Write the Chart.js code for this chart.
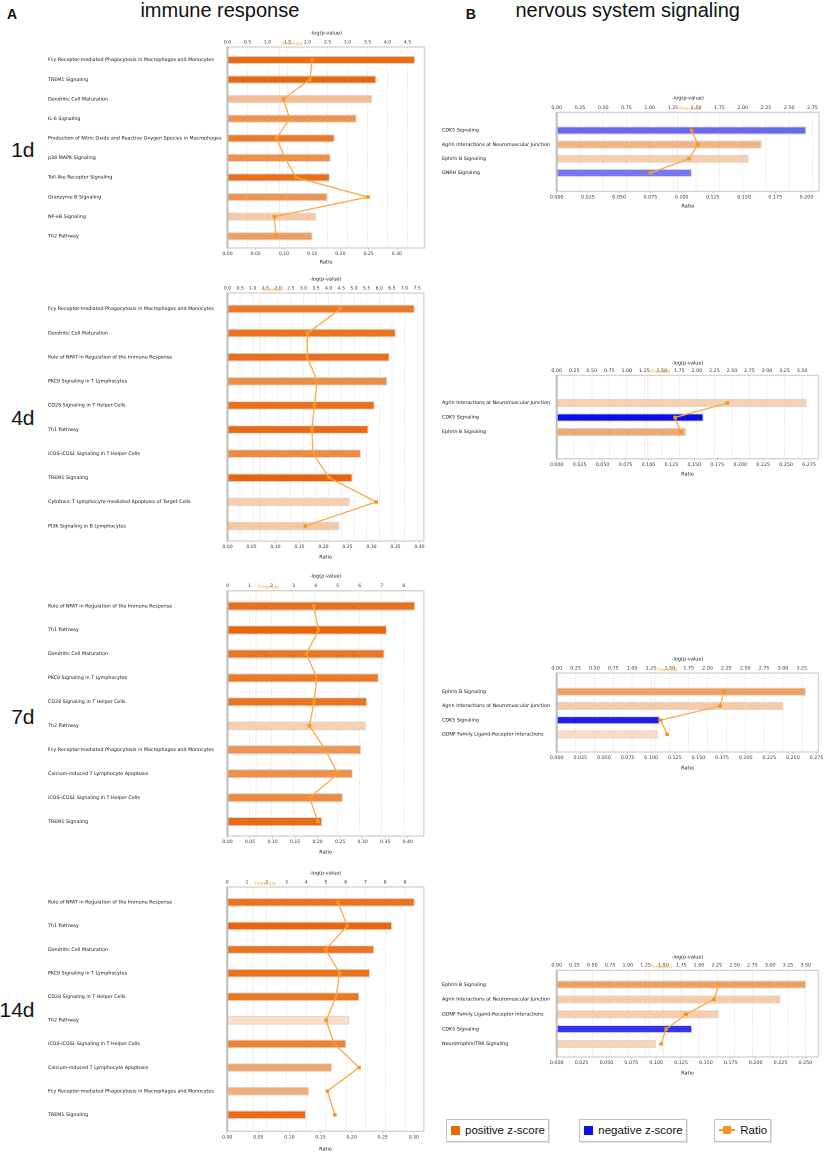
<!DOCTYPE html>
<html>
<head>
<meta charset="utf-8">
<script src="https://cdn.jsdelivr.net/npm/chart.js@4.4.1/dist/chart.umd.min.js"></script>
<style>
  body { margin: 0; background: #fff; width: 826px; height: 1155px; position: relative; overflow: hidden;
         font-family: "Liberation Sans", Arial, sans-serif; }
  .t { position: absolute; white-space: nowrap; color: #111; }
  canvas { position: absolute; }
  .lg { position: absolute; top: 1118.7px; height: 21px; border: 1px solid #c4c4c4; box-shadow: 1px 1px 0 #e2e2e2;
        font-size: 11.5px; color: #111; display: flex; align-items: center; }
  .sq { width: 9.3px; height: 9.3px; margin: 0 5px 0 4px; }
</style>
</head>
<body>
<div class="t" style="left:7px;top:6.5px;font-size:14px;font-weight:bold;line-height:14px">A</div>
<div class="t" style="left:140.4px;top:0;font-size:20px;line-height:20px">immune response</div>
<div class="t" style="left:465.7px;top:6.5px;font-size:14px;font-weight:bold;line-height:14px">B</div>
<div class="t" style="left:515.4px;top:0;font-size:20px;line-height:20px">nervous system signaling</div>
<div class="t" style="right:791.5px;top:138.9px;font-size:21px;line-height:21px">1d</div>
<div class="t" style="right:791.5px;top:407.2px;font-size:21px;line-height:21px">4d</div>
<div class="t" style="right:791.5px;top:706.2px;font-size:21px;line-height:21px">7d</div>
<div class="t" style="right:791.5px;top:998.9px;font-size:21px;line-height:21px">14d</div>

<div class="lg" style="left:445.7px;width:101px"><div class="sq" style="background:#E8650A"></div>positive z-score</div>
<div class="lg" style="left:579px;width:105.5px"><div class="sq" style="background:#1010E6"></div>negative z-score</div>
<div class="lg" style="left:714.3px;width:54.5px">
  <div style="position:relative;width:16px;height:9px;margin:0 5px 0 4px">
    <div style="position:absolute;left:0;top:3.5px;width:16px;height:2px;background:#F7941D"></div>
    <div style="position:absolute;left:4px;top:0.5px;width:8px;height:8px;background:#F7941D"></div>
  </div>Ratio</div>

<script>
const THRESHOLD = 1.3;

// A - immune response
const cats1dA = ['Fcγ Receptor-mediated Phagocytosis in Macrophages and Monocytes', 'TREM1 Signaling',
  'Dendritic Cell Maturation', 'IL-6 Signaling', 'Production of Nitric Oxide and Reactive Oxygen Species in Macrophages',
  'p38 MAPK Signaling', 'Toll-like Receptor Signaling', 'Granzyme B Signaling', 'NF-κB Signaling', 'Th2 Pathway'];
const logp1dA = [4.68, 3.71, 3.61, 3.22, 2.67, 2.57, 2.55, 2.49, 2.21, 2.12];
const ratio1dA = [0.150, 0.146, 0.099, 0.110, 0.087, 0.102, 0.121, 0.249, 0.083, 0.086];
const colors1dA = ['#EB6C14', '#E9660C', '#F4BC92', '#EE934D', '#EC7B2A', '#EF8F48', '#EA6F1A', '#EF9552', '#F7CAA6', '#F09D5E'];

const cats4dA = ['Fcγ Receptor-mediated Phagocytosis in Macrophages and Monocytes', 'Dendritic Cell Maturation',
  'Role of NFAT in Regulation of the Immune Response', 'PKCθ Signaling in T Lymphocytes', 'CD28 Signaling in T Helper Cells',
  'Th1 Pathway', 'iCOS-iCOSL Signaling in T Helper Cells', 'TREM1 Signaling',
  'Cytotoxic T Lymphocyte-mediated Apoptosis of Target Cells', 'PI3K Signaling in B Lymphocytes'];
const logp4dA = [7.39, 6.64, 6.39, 6.30, 5.80, 5.56, 5.26, 4.93, 4.82, 4.41];
const ratio4dA = [0.235, 0.167, 0.166, 0.187, 0.181, 0.176, 0.178, 0.212, 0.310, 0.162];
const colors4dA = ['#EE7A28', '#EC731F', '#EB6F1A', '#F08D45', '#EB6E18', '#EA6A13', '#EF8A3F', '#E9650C', '#F9CEAB', '#F7C7A0'];

const cats7dA = ['Role of NFAT in Regulation of the Immune Response', 'Th1 Pathway', 'Dendritic Cell Maturation',
  'PKCθ Signaling in T Lymphocytes', 'CD28 Signaling in T Helper Cells', 'Th2 Pathway',
  'Fcγ Receptor-mediated Phagocytosis in Macrophages and Monocytes', 'Calcium-induced T Lymphocyte Apoptosis',
  'iCOS-iCOSL Signaling in T Helper Cells', 'TREM1 Signaling'];
const logp7dA = [8.50, 7.22, 7.11, 6.85, 6.32, 6.26, 6.05, 5.67, 5.22, 4.28];
const ratio7dA = [0.191, 0.202, 0.175, 0.198, 0.192, 0.182, 0.217, 0.245, 0.182, 0.201];
const colors7dA = ['#EC701B', '#E9660C', '#EC7521', '#ED7A29', '#EC7420', '#F8CFAD', '#F09553', '#EF9049', '#EF8B40', '#EA6B14'];

const cats14dA = ['Role of NFAT in Regulation of the Immune Response', 'Th1 Pathway', 'Dendritic Cell Maturation',
  'PKCθ Signaling in T Lymphocytes', 'CD28 Signaling in T Helper Cells', 'Th2 Pathway',
  'iCOS-iCOSL Signaling in T Helper Cells', 'Calcium-induced T Lymphocyte Apoptosis',
  'Fcγ Receptor-mediated Phagocytosis in Macrophages and Monocytes', 'TREM1 Signaling'];
const logp14dA = [9.48, 8.33, 7.42, 7.21, 6.67, 6.17, 6.00, 5.29, 4.12, 3.97];
const ratio14dA = [0.178, 0.193, 0.158, 0.181, 0.175, 0.159, 0.172, 0.212, 0.161, 0.173];
const colors14dA = ['#EC721E', '#E9660C', '#EC741F', '#EC731E', '#EC7723', '#FADEC6', '#EE822F', '#F0A66B', '#F1AD75', '#EA6D16'];

// B - nervous system signaling
const cats1dB = ['CDK5 Signaling', 'Agrin Interactions at Neuromuscular Junction', 'Ephrin B Signaling', 'GNRH Signaling'];
const logp1dB = [2.68, 2.20, 2.06, 1.45];
const ratio1dB = [0.108, 0.113, 0.106, 0.075];
const colors1dB = ['#6767F0', '#F2B384', '#F8CDAA', '#7777F2'];

const cats4dB = ['Agrin Interactions at Neuromuscular Junction', 'CDK5 Signaling', 'Ephrin B Signaling'];
const logp4dB = [3.56, 2.09, 1.84];
const ratio4dB = [0.186, 0.129, 0.135];
const colors4dB = ['#F9D0B0', '#0C0CE6', '#F2A673'];

const cats7dB = ['Ephrin B Signaling', 'Agrin Interactions at Neuromuscular Junction', 'CDK5 Signaling',
  'GDNF Family Ligand-Receptor Interactions'];
const logp7dB = [3.30, 3.00, 1.36, 1.34];
const ratio7dB = [0.177, 0.173, 0.110, 0.117];
const colors7dB = ['#F1A060', '#F8CAA4', '#1E1EE8', '#FADCC4'];

const cats14dB = ['Ephrin B Signaling', 'Agrin Interactions at Neuromuscular Junction',
  'GDNF Family Ligand-Receptor Interactions', 'CDK5 Signaling', 'Neurotrophin/TRK Signaling'];
const logp14dB = [3.50, 3.14, 2.27, 1.90, 1.39];
const ratio14dB = [0.163, 0.158, 0.130, 0.110, 0.105];
const colors14dB = ['#F19F5F', '#F8CBA7', '#F8CCA8', '#3434EA', '#F9D4B5'];

Chart.defaults.font.family = '"DejaVu Sans", Verdana, sans-serif';

const framePlugin = {
  id: 'frame',
  beforeDatasetsDraw(chart) {
    const {ctx, chartArea: a, scales} = chart;
    const tx = scales.x.getPixelForValue(THRESHOLD);
    ctx.save();
    ctx.strokeStyle = 'rgba(250,185,110,0.3)';
    ctx.lineWidth = 1;
    ctx.beginPath(); ctx.moveTo(tx, a.top); ctx.lineTo(tx, a.bottom); ctx.stroke();
    ctx.strokeStyle = '#d4d4d4';
    ctx.lineWidth = 1.4;
    ctx.strokeRect(a.left, a.top, a.width, a.height);
    ctx.strokeStyle = '#bcbcbc';
    ctx.lineWidth = 2;
    ctx.beginPath(); ctx.moveTo(a.left, a.top); ctx.lineTo(a.left, a.bottom); ctx.stroke();
    ctx.restore();
  },
  afterDraw(chart) {
    const {ctx, chartArea: a, scales} = chart;
    const tx = scales.x.getPixelForValue(THRESHOLD);
    ctx.save();
    ctx.font = '4.4px "DejaVu Sans"';
    ctx.fillStyle = '#F5A540';
    ctx.textBaseline = 'middle';
    ctx.fillText('Threshold', tx + 1, a.top - 3.3);
    ctx.restore();
  }
};

function panel(p) {
  const canvasTop = p.topTitle - 3;
  const W = Math.ceil(p.plotR - p.x0 + 10);
  const H = Math.round(p.botTitle + 3 - canvasTop);
  const topH = p.frameTop - canvasTop;
  const botH = canvasTop + H - p.frameBottom;
  const cv = document.createElement('canvas');
  cv.width = W; cv.height = H;
  cv.style.left = p.x0 + 'px'; cv.style.top = canvasTop + 'px';
  cv.style.width = W + 'px'; cv.style.height = H + 'px';
  document.body.appendChild(cv);

  const tickFont = {size: p.tickSize, lineHeight: 1.2};
  new Chart(cv, {
    type: 'bar',
    data: {
      datasets: [{
        type: 'line', indexAxis: 'y', xAxisID: 'xr', yAxisID: 'y',
        data: p.ratio.map((v, i) => ({x: v, y: i})),
        borderColor: '#F9A947', borderWidth: 1.3, tension: 0, fill: false,
        pointStyle: 'rect', pointRadius: 2.5, pointBackgroundColor: '#F7951E', pointBorderWidth: 0, clip: false
      }, {
        type: 'bar', indexAxis: 'y', xAxisID: 'x', yAxisID: 'y',
        data: p.logp.map((v, i) => ({x: v, y: i})),
        backgroundColor: p.colors, borderColor: 'rgba(185,185,185,0.55)', borderWidth: 1,
        borderSkipped: false, barThickness: p.bar
      }]
    },
    options: {
      indexAxis: 'y',
      responsive: false,
      animation: false,
      devicePixelRatio: 2,
      layout: {padding: {left: 0, top: 0, bottom: 0, right: W - (p.plotR - p.x0)}},
      plugins: {legend: {display: false}, tooltip: {enabled: false}},
      scales: {
        x: {
          type: 'linear', position: 'top', min: 0, max: p.lpMax, offset: false,
          ticks: {stepSize: p.lpStep, includeBounds: false, font: tickFont, color: '#333', padding: 2,
                  maxRotation: 0, callback: v => v.toFixed(p.lpDec)},
          grid: {color: '#d6d6d6', lineWidth: 0.8, drawTicks: false},
          border: {display: false, dash: [1, 1.5]},
          title: {display: true, text: '-log(p-value)', font: {size: 5, lineHeight: 1.2}, color: '#222', padding: 0},
          afterFit: s => { s.height = topH; }
        },
        xr: {
          type: 'linear', position: 'bottom', min: 0, max: p.rMax, offset: false,
          ticks: {stepSize: p.rStep, includeBounds: false, font: tickFont, color: '#333', padding: 1,
                  maxRotation: 0, callback: v => v.toFixed(p.rDec)},
          grid: {drawOnChartArea: false, drawTicks: true, tickLength: 2, color: '#c8c8c8'},
          border: {display: false},
          title: {display: true, text: 'Ratio', font: {size: 5, lineHeight: 1.2}, color: '#222', padding: 0},
          afterFit: s => { s.height = botH; }
        },
        y: {
          type: 'linear', reverse: true, min: p.yMin, max: p.yMax, bounds: 'data', offset: false,
          afterBuildTicks: s => { s.ticks = p.cats.map((c, i) => ({value: i})); },
          ticks: {crossAlign: 'far', autoSkip: false, padding: 0, color: '#111',
                  font: {size: p.catSize, lineHeight: 1.2}, callback: v => p.cats[v]},
          grid: {display: false, offset: false},
          border: {display: false},
          afterFit: s => { s.width = p.plotL - p.x0; }
        }
      }
    },
    plugins: [framePlugin]
  });
}

const A = {x0: 47.5, plotL: 227, tickSize: 4.6, catSize: 4.8, lpDec: 1, rStep: 0.05, rDec: 2};
const B = {x0: 442.3, plotL: 557, plotR: 818.7, tickSize: 4.8, catSize: 4.8, lpStep: 0.25, lpDec: 2,
           rStep: 0.025, rDec: 3, bar: 7.5};

panel({...A, cats: cats1dA, logp: logp1dA, ratio: ratio1dA, colors: colors1dA, plotR: 424,
  topTitle: 33, frameTop: 47, frameBottom: 248, botTitle: 262, lpMax: 4.925, lpStep: 0.5, rMax: 0.349,
  yMin: -0.66, yMax: 9.6, bar: 7.5});
panel({...A, cats: cats4dA, logp: logp4dA, ratio: ratio4dA, colors: colors4dA, plotR: 423.3,
  topTitle: 279, frameTop: 293, frameBottom: 541, botTitle: 556.7, lpMax: 7.76, lpStep: 0.5, rMax: 0.409,
  yMin: -0.66, yMax: 9.62, bar: 8});
panel({...A, cats: cats7dA, logp: logp7dA, ratio: ratio7dA, colors: colors7dA, plotR: 423.3, lpDec: 0,
  topTitle: 576, frameTop: 590.7, frameBottom: 836, botTitle: 851.7, lpMax: 8.91, lpStep: 1, rMax: 0.4357,
  yMin: -0.64, yMax: 9.6, bar: 8.5});
panel({...A, cats: cats14dA, logp: logp14dA, ratio: ratio14dA, colors: colors14dA, plotL: 226.7, plotR: 423.3, lpDec: 0,
  topTitle: 872.7, frameTop: 886.7, frameBottom: 1131, botTitle: 1149, lpMax: 9.95, lpStep: 1, rMax: 0.316,
  yMin: -0.65, yMax: 9.7, bar: 8});

panel({...B, cats: cats1dB, logp: logp1dB, ratio: ratio1dB, colors: colors1dB, plotR: 819.3,
  topTitle: 98.3, frameTop: 112.7, frameBottom: 191.7, botTitle: 206.7, lpMax: 2.82, rMax: 0.210,
  yMin: -1.27, yMax: 4.3});
panel({...B, cats: cats4dB, logp: logp4dB, ratio: ratio4dB, colors: colors4dB,
  topTitle: 363.3, frameTop: 375.7, frameBottom: 459, botTitle: 474.3, lpMax: 3.733, rMax: 0.2852,
  yMin: -1.9, yMax: 3.84});
panel({...B, cats: cats7dB, logp: logp7dB, ratio: ratio7dB, colors: colors7dB,
  topTitle: 659.3, frameTop: 673.3, frameBottom: 752.3, botTitle: 768.3, lpMax: 3.47, rMax: 0.277,
  yMin: -1.32, yMax: 4.24});
panel({...B, cats: cats14dB, logp: logp14dB, ratio: ratio14dB, colors: colors14dB,
  topTitle: 956.7, frameTop: 970, frameBottom: 1056.7, botTitle: 1072.7, lpMax: 3.678, rMax: 0.2631,
  yMin: -0.96, yMax: 4.88});
</script>
</body>
</html>
